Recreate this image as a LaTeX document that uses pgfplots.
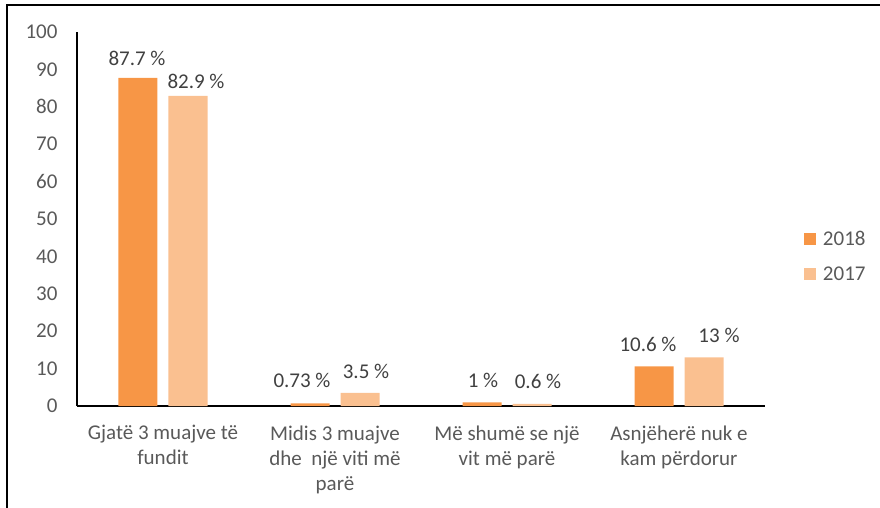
\documentclass[border=0pt]{standalone}
\usepackage{fontspec}
\setmainfont{Carlito}
\usepackage{pgfplots}
\usepackage{pgfplotstable}
\pgfplotsset{compat=1.18}
\definecolor{c18}{HTML}{F79646}
\definecolor{c17}{HTML}{FAC090}
\definecolor{txt}{HTML}{595959}
\definecolor{lbl}{HTML}{404040}

% x value label dx dy (label offsets in pt)
\pgfplotstableread{
x y lab dx dy
0 87.7 87.7 -1 -2
1 0.73 0.73 -8 1
2 1 1 1 0
3 10.6 10.6 -6 0
}\tabA
\pgfplotstableread{
x y lab dx dy
0 82.9 82.9 8 -7
1 3.5 3.5 6 0
2 0.6 0.6 6 1
3 13 13 15 0
}\tabB

\begin{document}
\begin{tikzpicture}
\begin{axis}[
  scale only axis,
  width=688pt, height=374pt,
  xmin=-0.5, xmax=3.5, ymin=0, ymax=100,
  axis x line=bottom, axis y line=left,
  axis line style={line width=1.3pt, -},
  ybar=11pt, bar width=39pt,
  xtick={0,1,2,3}, ytick={0,10,...,100},
  xticklabels={{Gjatë 3 muajve të\\fundit},{Midis 3 muajve\\dhe\ \ një viti më\\parë},{Më shumë se një\\vit më parë},{Asnjëherë nuk e\\kam përdorur}},
  major tick length=0pt,
  /pgf/number format/assume math mode=true,
  tick label style={font=\fontsize{21}{25}\selectfont, text=txt},
  xticklabel style={align=center, yshift=-16pt},
  yticklabel style={xshift=-16pt},
  point meta=explicit symbolic,
  nodes near coords={\pgfplotspointmeta\ \%},
  visualization depends on={\thisrow{dx} \as \dx},
  visualization depends on={\thisrow{dy} \as \dy},
  every node near coord/.append style={font=\fontsize{21}{25}\selectfont, text=lbl, anchor=south, xshift=\dx pt, yshift=\dy pt + 11pt},
  legend style={draw=none, fill=none, at={(1.052,0.479)}, anchor=north west,
    font=\fontsize{21}{25}\selectfont, text=txt, row sep=16pt,
    /tikz/every odd column/.append style={column sep=5pt}},
  legend cell align=left,
  legend image code/.code={\fill[#1] (0pt,-6pt) rectangle (12pt,6pt);},
]
\addplot[fill=c18, draw=none] table[x=x, y=y, meta=lab] {\tabA};
\addplot[fill=c17, draw=none] table[x=x, y=y, meta=lab] {\tabB};
\legend{2018,2017}
\end{axis}
\draw[line width=2pt] (-69.5pt,-102pt) -- (-69.5pt,400.5pt) -- (803pt,400.5pt);
\pgfresetboundingbox
\path (-77pt,-102pt) rectangle (803pt,406pt);
\end{tikzpicture}
\end{document}
